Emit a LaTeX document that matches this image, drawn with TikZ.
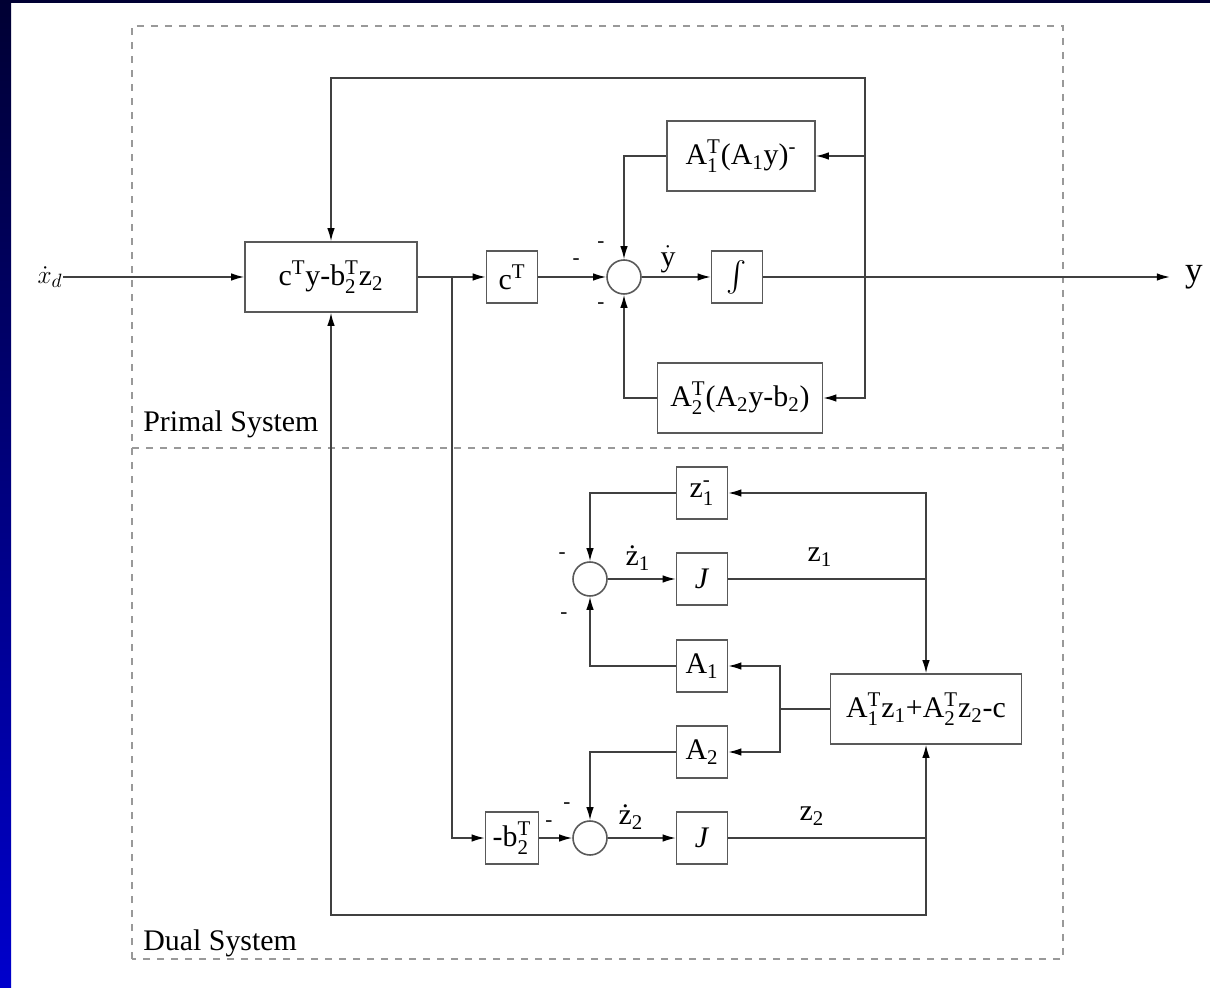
\documentclass[tikz,border=0pt]{standalone}
\usepackage{amsmath}
\usepackage{fontspec}
\setmainfont{Liberation Serif}
\usetikzlibrary{arrows.meta}
\definecolor{slidetop}{HTML}{000033}
\definecolor{slidebot}{HTML}{0000CC}
\newcommand{\lsub}[1]{\(_{\text{#1}}\)}
\newcommand{\lsup}[1]{\(^{\text{#1}}\)}
\newcommand{\lsupsub}[2]{\(^{\text{#1}}_{\text{#2}}\)}

\begin{document}
\begin{tikzpicture}[
  blk/.style={draw=black!65, line width=0.9pt, minimum width=1.02cm,
    minimum height=1.04cm, inner sep=0pt, font=\fontsize{17}{20}\selectfont},
  wideblk/.style={blk, minimum width=#1, minimum height=1.40cm},
  sumc/.style={draw=black!65, line width=0.9pt, circle, minimum size=0.68cm, inner sep=0pt},
  arr/.style={-{Latex[length=2.6mm,width=1.5mm,black]}, line width=0.8pt, black!75},
  wire/.style={line width=0.8pt, black!75},
  lbl/.style={font=\fontsize{17}{20}\selectfont, inner sep=0pt},
  sgn/.style={font=\fontsize{12}{14}\selectfont, inner sep=0pt},
  sysframe/.style={draw=black!40, line width=1.2pt, dash pattern=on 0.14cm off 0.14cm}
]
  % slide background
  \fill[white] (0,0) rectangle (24.2,19.74);
  \shade[top color=slidetop, bottom color=slidebot] (0,0) rectangle (0.22,19.74);
  \fill[slidetop] (0,19.68) rectangle (24.2,19.74);
  \useasboundingbox (0,0) rectangle (24.2,19.74);

  % system frames
  \draw[sysframe] (2.64,0.56) rectangle (21.26,19.22);
  \draw[sysframe] (2.64,10.78) -- (21.26,10.78);
  \node[lbl, anchor=base west] (primal) at (2.86,11.10) {Primal System};
  \node[lbl, anchor=base west] (dual) at (2.86,0.74) {Dual System};

  % primal system
  \node[lbl, font=\fontsize{15}{18}\selectfont] (xd) at (1.0,14.20) {\(\dot{x}_d\)};
  \node[wideblk=3.44cm] (cost) at (6.62,14.20) {c\lsup{T}y-b\lsupsub{T}{2}z\lsub{2}};
  \node[blk] (ct) at (10.24,14.20) {c\lsup{T}};
  \node[sumc] (sumy) at (12.48,14.20) {};
  \node[wideblk=2.96cm] (aonet) at (14.82,16.62) {A\lsupsub{T}{1}(A\lsub{1}y)\lsup{-}};
  \node[wideblk=3.30cm] (atwot) at (14.80,11.78) {A\lsupsub{T}{2}(A\lsub{2}y-b\lsub{2})};
  \node[blk] (inty) at (14.74,14.20) {\(\int\)};
  \node[lbl, font=\fontsize{20}{24}\selectfont, inner xsep=0.3cm] (yout) at (23.88,14.20) {y};

  \coordinate (split) at (9.04,14.20);
  \coordinate (ybr) at (17.30,14.20);
  \coordinate (ytop) at (17.30,18.18);

  \node[sgn] (sgnct) at (11.52,14.50) {-};
  \node[sgn] (sgnaone) at (12.02,14.84) {-};
  \node[sgn] (sgnatwo) at (12.02,13.62) {-};
  \node[lbl] (ydot) at (13.36,14.55) {\(\dot{\text{y}}\)};

  % dual system
  \node[blk] (zonem) at (14.04,9.88) {z\lsupsub{-}{1}};
  \node[blk] (jone) at (14.04,8.16) {\textit{J}};
  \node[blk] (aone) at (14.04,6.42) {A\lsub{1}};
  \node[blk] (atwo) at (14.04,4.70) {A\lsub{2}};
  \node[blk] (jtwo) at (14.04,2.98) {\textit{J}};
  \node[sumc] (sumzone) at (11.80,8.16) {};
  \node[sumc] (sumztwo) at (11.80,2.98) {};
  \node[blk, minimum width=1.06cm] (mbt) at (10.24,2.98) {-b\lsupsub{T}{2}};
  \node[wideblk=3.82cm] (grad) at (18.52,5.56) {A\lsupsub{T}{1}z\lsub{1}+A\lsupsub{T}{2}z\lsub{2}-c};

  \coordinate (zonebr) at (18.52,8.16);
  \coordinate (abr) at (15.60,5.56);
  \coordinate (ztwobr) at (18.52,2.98);
  \coordinate (zbot) at (18.52,1.44);

  \node[sgn] (sgnzone) at (11.24,8.62) {-};
  \node[sgn] (sgnaz) at (11.28,7.42) {-};
  \node[sgn] (sgnatz) at (11.34,3.62) {-};
  \node[sgn] (sgnmbt) at (10.98,3.26) {-};
  \node[lbl] (zonedot) at (12.76,8.58) {ż\lsub{1}};
  \node[lbl] (ztwodot) at (12.62,3.40) {ż\lsub{2}};
  \node[lbl] (zonelbl) at (16.40,8.60) {z\lsub{1}};
  \node[lbl] (ztwolbl) at (16.24,3.42) {z\lsub{2}};

  \draw[arr] (xd) -- (cost);
  \draw[arr] (cost) -- (ct);
  \draw[arr] (ct) -- (sumy);
  \draw[arr] (sumy) -- (inty);
  \draw[arr] (inty) -- (yout);
  \draw[arr] (ybr) -- (ytop) -| (cost.north);
  \draw[arr] (ybr) |- (aonet.east);
  \draw[arr] (ybr) |- (atwot.east);
  \draw[arr] (aonet.west) -| (sumy.north);
  \draw[arr] (atwot.west) -| (sumy.south);
  \draw[arr] (split) |- (mbt.west);

  \draw[arr] (mbt) -- (sumztwo);
  \draw[arr] (sumztwo) -- (jtwo);
  \draw[arr] (sumzone) -- (jone);
  \draw[arr] (zonem.west) -| (sumzone.north);
  \draw[arr] (aone.west) -| (sumzone.south);
  \draw[arr] (atwo.west) -| (sumztwo.north);
  \draw[wire] (jone) -- (zonebr);
  \draw[arr] (zonebr) |- (zonem.east);
  \draw[arr] (zonebr) -- (grad.north);
  \draw[wire] (grad) -- (abr);
  \draw[arr] (abr) |- (aone.east);
  \draw[arr] (abr) |- (atwo.east);
  \draw[wire] (jtwo) -- (ztwobr);
  \draw[arr] (ztwobr) -- (grad.south);
  \draw[arr] (ztwobr) -- (zbot) -| (cost.south);
\end{tikzpicture}
\end{document}
